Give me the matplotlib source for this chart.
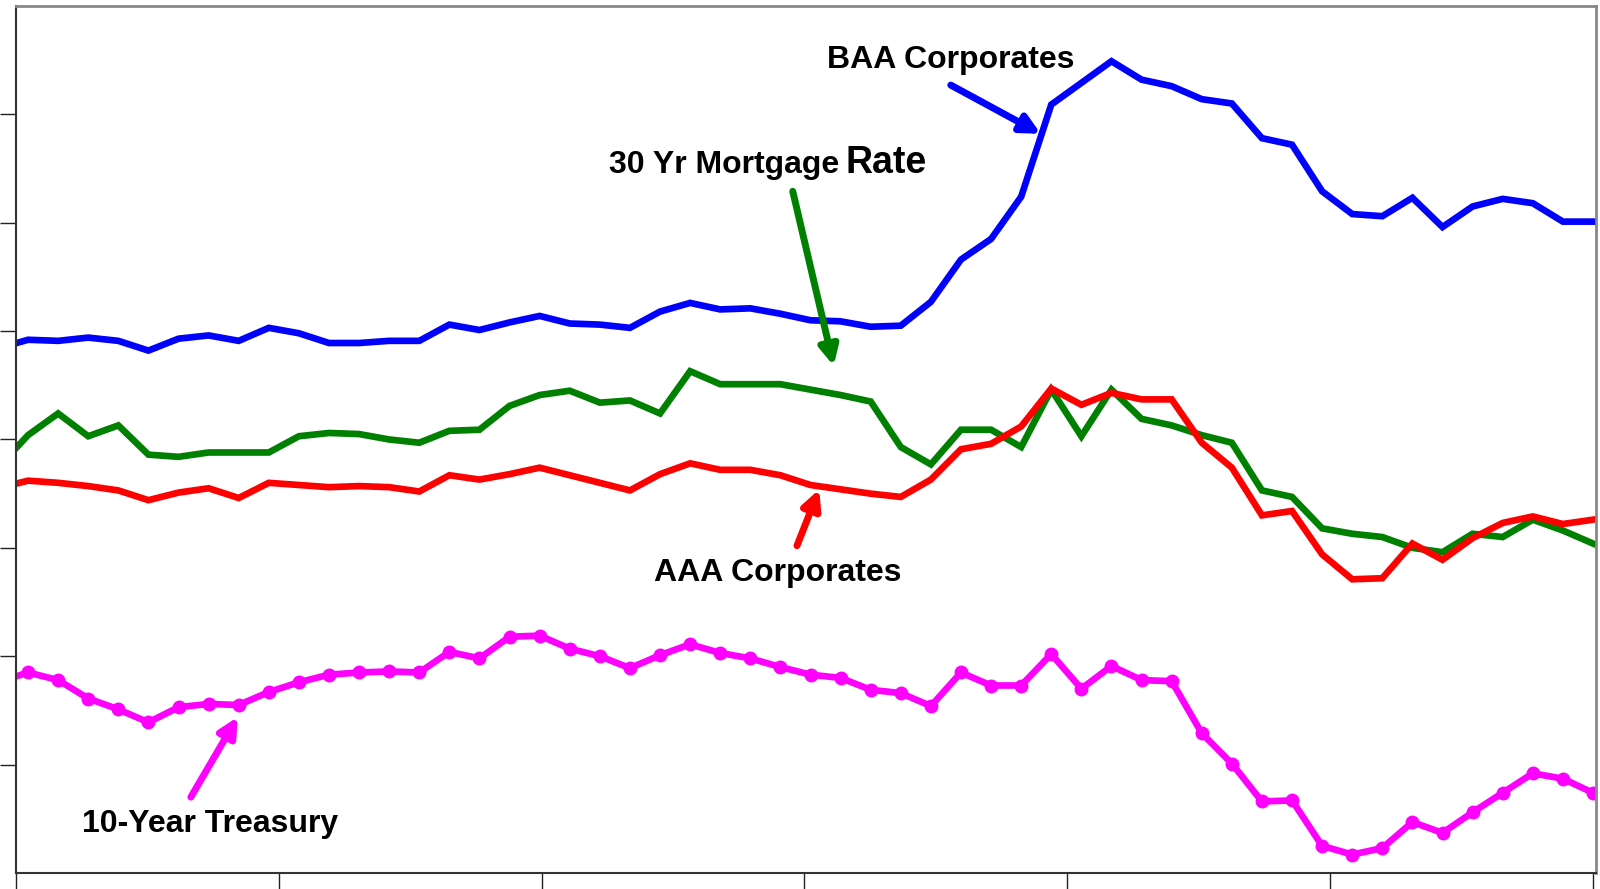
import numpy as np
import matplotlib.pyplot as plt

plt.rcParams['font.family'] = ['Liberation Sans', 'DejaVu Sans']

# weekly yields (%), first point sits just left of the axis
baa = [6.84, 6.92, 6.91, 6.94, 6.91, 6.82, 6.93, 6.96, 6.91, 7.03, 6.98,
       6.89, 6.89, 6.91, 6.91, 7.06, 7.01, 7.08, 7.14, 7.07, 7.06, 7.03,
       7.18, 7.26, 7.20, 7.21, 7.16, 7.10, 7.09, 7.04, 7.05, 7.27, 7.66,
       7.85, 8.24, 9.09, 9.29, 9.49, 9.32, 9.26, 9.14, 9.10, 8.78, 8.72,
       8.29, 8.08, 8.06, 8.23, 7.96, 8.15, 8.22, 8.18, 8.01, 8.01]
mortgage = [5.74, 6.04, 6.24, 6.03, 6.13, 5.86, 5.84, 5.88, 5.88, 5.88, 6.03,
            6.06, 6.05, 6.00, 5.97, 6.08, 6.09, 6.31, 6.41, 6.45, 6.34, 6.36,
            6.24, 6.63, 6.51, 6.51, 6.51, 6.46, 6.41, 6.35, 5.93, 5.77, 6.09,
            6.09, 5.93, 6.46, 6.03, 6.46, 6.19, 6.13, 6.04, 5.97, 5.53, 5.47,
            5.18, 5.13, 5.10, 5.00, 4.96, 5.13, 5.10, 5.26, 5.16, 5.04]
aaa = [5.55, 5.62, 5.60, 5.57, 5.53, 5.44, 5.51, 5.55, 5.46, 5.60, 5.58,
       5.56, 5.57, 5.56, 5.52, 5.67, 5.63, 5.68, 5.74, 5.67, 5.60, 5.53,
       5.68, 5.78, 5.72, 5.72, 5.67, 5.58, 5.54, 5.50, 5.47, 5.63, 5.91,
       5.96, 6.12, 6.47, 6.32, 6.43, 6.37, 6.37, 5.97, 5.74, 5.30, 5.34,
       4.94, 4.71, 4.72, 5.04, 4.89, 5.09, 5.23, 5.29, 5.22, 5.26]
treasury = [3.76, 3.85, 3.78, 3.61, 3.51, 3.39, 3.53, 3.56, 3.55, 3.67, 3.76,
            3.83, 3.85, 3.86, 3.85, 4.04, 3.98, 4.18, 4.19, 4.07, 4.00, 3.89,
            4.01, 4.11, 4.03, 3.98, 3.90, 3.83, 3.80, 3.69, 3.66, 3.54, 3.85,
            3.73, 3.73, 4.02, 3.70, 3.91, 3.78, 3.77, 3.29, 3.01, 2.66, 2.67,
            2.25, 2.17, 2.23, 2.47, 2.37, 2.56, 2.74, 2.92, 2.87, 2.74]

weeks = np.arange(-1, len(baa) - 1)

fig = plt.figure(figsize=(16, 8.89), dpi=100)
ax = fig.add_axes([0.01, 0.018, 0.9875, 0.9753])

ax.plot(weeks, baa, color='#0000FF', lw=4.8, solid_joinstyle='miter')
ax.plot(weeks, mortgage, color='#008000', lw=4.8, solid_joinstyle='miter')
ax.plot(weeks, aaa, color='#FF0000', lw=4.8, solid_joinstyle='miter')
ax.plot(weeks, treasury, color='#FF00FF', lw=4.8, marker='o', ms=9,
        solid_joinstyle='miter')

ax.set_xlim(-0.4, 52.1)
ax.set_ylim(2, 10)
ax.set_xticks(np.linspace(-0.4, 52.0, 7))
ax.set_yticks(np.arange(3, 10))
ax.tick_params(direction='out', length=11.5, width=1, color='#222222',
               labelbottom=False, labelleft=False)
for side in ['left', 'bottom']:
    ax.spines[side].set_color('#333333')
    ax.spines[side].set_linewidth(1.5)
for side in ['top', 'right']:
    ax.spines[side].set_color('#888888')
    ax.spines[side].set_linewidth(2)

font = dict(fontsize=23, fontweight='bold', color='black')


def arrow(tip, tail, color):
    ax.annotate('', xy=tip, xytext=tail,
                arrowprops=dict(arrowstyle='-|>', color=color, lw=5,
                                mutation_scale=28, shrinkA=0, shrinkB=0))


# series labels with arrows
arrow((33.65, 8.82), (30.66, 9.27), '#0000FF')
ax.text(30.66, 9.50, 'BAA Corporates', ha='center', va='center', **font)

arrow((26.77, 6.68), (25.41, 8.29), '#008000')
ax.text(26.94, 8.455, '30 Yr Mortgage', ha='right', va='baseline', **font)
ax.text(27.17, 8.455, 'Rate', ha='left', va='baseline',
        fontsize=27, fontweight='bold')

arrow((26.29, 5.54), (25.55, 5.02), '#FF0000')
ax.text(24.9, 4.77, 'AAA Corporates', ha='center', va='center', **font)

arrow((6.97, 3.44), (5.41, 2.70), '#FF00FF')
ax.text(6.05, 2.45, '10-Year Treasury', ha='center', va='center', **font)

fig.savefig('out.png', dpi=100)
